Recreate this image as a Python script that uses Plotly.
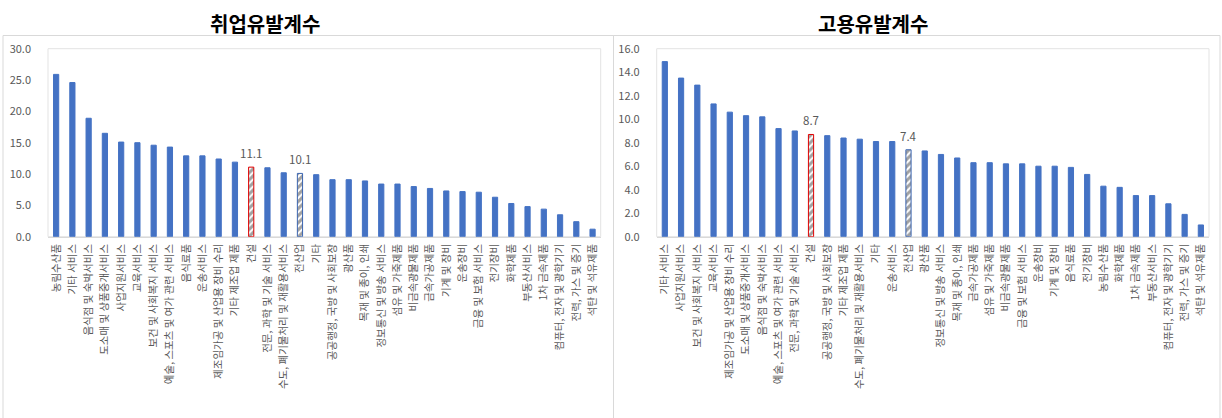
import plotly.graph_objects as go

FONT = "Noto Sans CJK KR"

# 취업유발계수 (산업별)
emp_labels = [
    "농림수산품", "기타 서비스", "음식점 및 숙박서비스", "도소매 및 상품중개서비스",
    "사업지원서비스", "교육서비스", "보건 및 사회복지 서비스",
    "예술, 스포츠 및 여가 관련 서비스", "음식료품", "운송서비스",
    "제조임가공 및 산업용 장비 수리", "기타 제조업 제품", "건설",
    "전문, 과학 및 기술 서비스", "수도, 폐기물처리 및 재활용서비스", "전산업", "기타",
    "공공행정, 국방 및 사회보장", "광산품", "목재 및 종이, 인쇄", "정보통신 및 방송 서비스",
    "섬유 및 가죽제품", "비금속광물제품", "금속가공제품", "기계 및 장비", "운송장비",
    "금융 및 보험 서비스", "전기장비", "화학제품", "부동산서비스", "1차 금속제품",
    "컴퓨터, 전자 및 광학기기", "전력, 가스 및 증기", "석탄 및 석유제품",
]
emp_values = [
    25.9, 24.6, 18.9, 16.5, 15.1, 15.0, 14.6, 14.3, 12.9, 12.9, 12.4, 11.9, 11.1,
    11.0, 10.2, 10.1, 9.9, 9.1, 9.1, 8.9, 8.4, 8.4, 8.0, 7.7, 7.3, 7.2, 7.1,
    6.3, 5.3, 4.8, 4.4, 3.5, 2.4, 1.2,
]

# 고용유발계수 (산업별)
job_labels = [
    "기타 서비스", "사업지원서비스", "보건 및 사회복지 서비스", "교육서비스",
    "제조임가공 및 산업용 장비 수리", "도소매 및 상품중개서비스", "음식점 및 숙박서비스",
    "예술, 스포츠 및 여가 관련 서비스", "전문, 과학 및 기술 서비스", "건설",
    "공공행정, 국방 및 사회보장", "기타 제조업 제품", "수도, 폐기물처리 및 재활용서비스",
    "기타", "운송서비스", "전산업", "광산품", "정보통신 및 방송 서비스",
    "목재 및 종이, 인쇄", "금속가공제품", "섬유 및 가죽제품", "비금속광물제품",
    "금융 및 보험 서비스", "운송장비", "기계 및 장비", "음식료품", "전기장비",
    "농림수산품", "화학제품", "1차 금속제품", "부동산서비스",
    "컴퓨터, 전자 및 광학기기", "전력, 가스 및 증기", "석탄 및 석유제품",
]
job_values = [
    14.9, 13.5, 12.9, 11.3, 10.6, 10.3, 10.2, 9.2, 9.0, 8.7, 8.6, 8.4, 8.3,
    8.1, 8.1, 7.4, 7.3, 7.0, 6.7, 6.3, 6.3, 6.2, 6.2, 6.0, 6.0, 5.9, 5.3,
    4.3, 4.2, 3.5, 3.5, 2.8, 1.9, 1.0,
]

panel_titles = ["취업유발계수", "고용유발계수"]
highlight = {"건설": "#E00000", "전산업": "#3A64B0"}

BLUE = "#4472C4"
W, H = 1222, 418


def bar_trace(labels, values, xa, ya):
    colors, fg, shapes, lines = [], [], [], []
    for lab in labels:
        if lab in highlight:
            c = highlight[lab]
            colors.append("white")
            fg.append(c)
            shapes.append("/")
            lines.append(c)
        else:
            colors.append(BLUE)
            fg.append(BLUE)
            shapes.append("")
            lines.append(BLUE)
    return go.Bar(
        x=labels, y=values, xaxis=xa, yaxis=ya,
        width=0.32,
        marker=dict(
            color=colors,
            line=dict(color=lines, width=1),
            pattern=dict(shape=shapes, fgcolor=fg, size=5, solidity=0.6),
        ),
        hoverinfo="x+y", showlegend=False,
    )


fig = go.Figure()
fig.add_trace(bar_trace(emp_labels, emp_values, "x", "y"))
fig.add_trace(bar_trace(job_labels, job_values, "x2", "y2"))

# 강조 막대의 값 표시
for labels, values, xr, yr in [(emp_labels, emp_values, "x", "y"),
                               (job_labels, job_values, "x2", "y2")]:
    for lab, v in zip(labels, values):
        if lab in highlight:
            fig.add_annotation(x=lab, y=v, xref=xr, yref=yr, text=f"{v:.1f}",
                               showarrow=False, yanchor="bottom", yshift=4,
                               font=dict(family=FONT, size=11.5, color="#595959"))

ydom = [1 - 236.7 / H, 1 - 48.7 / H]
tick_font = dict(family=FONT, size=11, color="#595959")
cat_font = dict(family=FONT, size=10.5, color="#595959")

xcommon = dict(
    type="category", tickangle=-90, tickfont=cat_font,
    showline=True, linecolor="#D9D9D9", linewidth=1,
    showgrid=False, ticks="", ticklabelstandoff=2, automargin=False, fixedrange=True,
)
ycommon = dict(
    showgrid=False, zeroline=False, showline=False, tickfont=tick_font,
    tickformat=".1f", ticks="", ticklabelstandoff=16, automargin=False,
    fixedrange=True, domain=ydom,
)

fig.update_layout(
    width=W, height=H,
    margin=dict(l=0, r=0, t=0, b=0),
    paper_bgcolor="white", plot_bgcolor="white",
    bargap=0.6,
    font=dict(family=FONT),
    xaxis=dict(domain=[48 / W, 600.7 / W], anchor="y", **xcommon),
    yaxis=dict(range=[0, 30], dtick=5, anchor="x", **ycommon),
    xaxis2=dict(domain=[656.7 / W, 1209 / W], anchor="y2", **xcommon),
    yaxis2=dict(range=[0, 16], dtick=2, anchor="x2", **ycommon),
)

# 패널 외곽선과 플롯 영역 테두리
for x0, x1 in [(3, 613.5), (613.5, 1220)]:
    fig.add_shape(type="rect", xref="paper", yref="paper",
                  x0=x0 / W, x1=x1 / W, y0=-0.01, y1=1 - 35.5 / H,
                  line=dict(color="#D9D9D9", width=1), fillcolor="rgba(0,0,0,0)",
                  layer="below")
for xr, yr in [("x domain", "y domain"), ("x2 domain", "y2 domain")]:
    fig.add_shape(type="rect", xref=xr, yref=yr, x0=0, x1=1, y0=0, y1=1,
                  line=dict(color="#E3E3E3", width=1), layer="below")

# 패널 제목
for title, cx in zip(panel_titles, [265, 873]):
    fig.add_annotation(text=f"<b>{title}</b>", xref="paper", yref="paper",
                       x=cx / W, y=1 - 23 / H, showarrow=False,
                       font=dict(family=FONT, size=20, color="black"),
                       xanchor="center", yanchor="middle")

fig.write_html("out.html")
